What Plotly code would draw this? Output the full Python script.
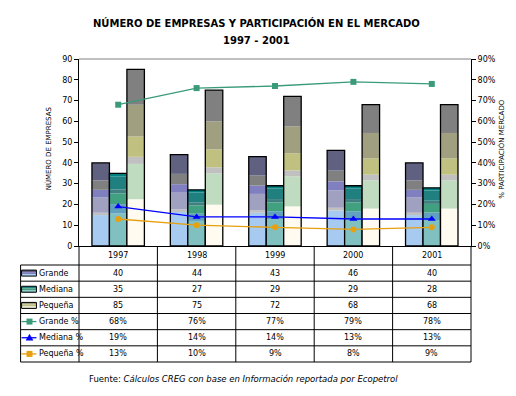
import plotly.graph_objects as go

# ---------------- data ----------------
years = ["1997", "1998", "1999", "2000", "2001"]
grande = [40, 44, 43, 46, 40]
mediana = [35, 27, 29, 29, 28]
pequena = [85, 75, 72, 68, 68]
grande_pct = [0.68, 0.76, 0.77, 0.79, 0.78]
mediana_pct = [0.19, 0.14, 0.14, 0.13, 0.13]
pequena_pct = [0.13, 0.10, 0.09, 0.08, 0.09]
row_names = ["Grande", "Mediana", "Pequeña", "Grande %", "Mediana %", "Pequeña %"]

# ---------------- style ----------------
FONT = "DejaVu Sans"
PAGE_OFF = 8                      # default page body margin
W, H = 516 - 2 * PAGE_OFF, 396 - 2 * PAGE_OFF
L, R, T, B = 79, 475, 59, 246     # plot area in window px

def pxx(p):
    return (p - L) / (R - L)

def pxy(p):
    return (B - p) / (B - T)

GRANDE_BANDS = [(0, 0.372, "#a6caf0"), (0.372, 0.40, "#c0c0c0"), (0.40, 0.583, "#a0a0c0"),
                (0.583, 0.676, "#8080c0"), (0.676, 0.789, "#808080"), (0.789, 1.0, "#606080")]
MEDIANA_BANDS = [(0, 0.447, "#80c0c0"), (0.447, 0.576, "#60a0c0"), (0.576, 0.724, "#40a080"),
                 (0.724, 0.779, "#408080"), (0.779, 0.954, "#208080"), (0.954, 1.0, "#008080")]
PEQUENA_BANDS = [(0, 0.265, "#fffbf0"), (0.265, 0.465, "#c0dcc0"), (0.465, 0.505, "#c0c0c0"),
                 (0.505, 0.62, "#c0c080"), (0.62, 0.80, "#a0a080"), (0.80, 1.0, "#808080")]
BW = 0.223
series = [(grande, GRANDE_BANDS, -0.335), (mediana, MEDIANA_BANDS, -0.112), (pequena, PEQUENA_BANDS, 0.111)]
C_G, C_M, C_P = "#3a9b7b", "#0000ff", "#e6a010"

fig = go.Figure()
for vals, bands, off in series:
    for f0, f1, col in bands:
        fig.add_trace(go.Bar(x=years, y=[v * (f1 - f0) for v in vals], base=[v * f0 for v in vals],
                             width=BW, offset=off, marker=dict(color=col, line=dict(width=0)),
                             hoverinfo="skip", showlegend=False))
    fig.add_trace(go.Bar(x=years, y=vals, base=[0] * len(vals), width=BW, offset=off,
                         marker=dict(color="rgba(0,0,0,0)", line=dict(color="black", width=1.3)),
                         showlegend=False))

for vals, col, sym, sz in [(grande_pct, C_G, "square", 6), (mediana_pct, C_M, "triangle-up", 7),
                           (pequena_pct, C_P, "circle", 6)]:
    fig.add_trace(go.Scatter(x=years, y=vals, yaxis="y2", mode="lines+markers",
                             line=dict(color=col, width=1.3), marker=dict(symbol=sym, size=sz, color=col),
                             cliponaxis=False, showlegend=False))

shapes = []
ann = []

def text(x, y, t, size=8, xref="paper", xanchor="center", **kw):
    ann.append(dict(x=x, xref=xref, y=y, yref="paper", text=t, showarrow=False,
                    xanchor=xanchor, yanchor="middle",
                    font=dict(size=size, family=FONT, color="black"), **kw))

# top border of plot area
shapes.append(dict(type="line", xref="paper", yref="paper", x0=0, x1=1, y0=1, y1=1,
                   line=dict(color="#808080", width=1)))

# table grid
row_top = 265
row_bot = 362
nrows = len(row_names)
rh = (row_bot - row_top) / nrows
line_style = dict(color="black", width=1)
for i in range(nrows + 1):
    yy = row_top + i * rh
    shapes.append(dict(type="line", xref="paper", yref="paper", x0=pxx(20), x1=1,
                       y0=pxy(yy), y1=pxy(yy), line=line_style))
shapes.append(dict(type="line", xref="paper", yref="paper", x0=pxx(20), x1=pxx(20),
                   y0=pxy(row_top), y1=pxy(row_bot), line=line_style))
for k in range(len(years) + 1):
    xk = k / len(years)
    shapes.append(dict(type="line", xref="paper", yref="paper", x0=xk, x1=xk,
                       y0=0, y1=pxy(row_bot), line=line_style))

# year labels row
for j, yr in enumerate(years):
    text(j, pxy(255.5), yr, xref="x")

# table values
table_rows = [
    [str(v) for v in grande],
    [str(v) for v in mediana],
    [str(v) for v in pequena],
    [f"{round(v*100)}%" for v in grande_pct],
    [f"{round(v*100)}%" for v in mediana_pct],
    [f"{round(v*100)}%" for v in pequena_pct],
]
for i, (name, vals) in enumerate(zip(row_names, table_rows)):
    cy = row_top + (i + 0.5) * rh
    text(pxx(37), pxy(cy), name, xanchor="left")
    for j, t in enumerate(vals):
        text(j, pxy(cy), t, xref="x")

# legend icons in the table
icon_cols = [["#606080", "#8080c0", "#a6caf0"], ["#208080", "#40a080", "#80c0c0"],
             ["#a0a080", "#c0c080", "#e0e8d0"]]
for i, cols in enumerate(icon_cols):
    cy = row_top + (i + 0.5) * rh
    top = cy - 3
    hh = 6 / len(cols)
    for j, c in enumerate(cols):
        shapes.append(dict(type="rect", xref="paper", yref="paper", x0=pxx(21), x1=pxx(36),
                           y0=pxy(top + j * hh), y1=pxy(top + (j + 1) * hh),
                           fillcolor=c, line=dict(width=0)))
    shapes.append(dict(type="rect", xref="paper", yref="paper", x0=pxx(21), x1=pxx(36),
                       y0=pxy(top), y1=pxy(top + 6), line=dict(color="black", width=1)))
for i, col in enumerate([C_G, C_M, C_P]):
    cy = row_top + (i + 3.5) * rh
    shapes.append(dict(type="line", xref="paper", yref="paper", x0=pxx(21), x1=pxx(36),
                       y0=pxy(cy), y1=pxy(cy), line=dict(color=col, width=1.3)))
    if i == 1:
        path = f"M {pxx(25.5)} {pxy(cy+2.5)} L {pxx(32.5)} {pxy(cy+2.5)} L {pxx(29)} {pxy(cy-3.5)} Z"
        shapes.append(dict(type="path", xref="paper", yref="paper", path=path,
                           fillcolor=col, line=dict(color=col, width=0.5)))
    else:
        shapes.append(dict(type="rect", xref="paper", yref="paper", x0=pxx(26), x1=pxx(32),
                           y0=pxy(cy - 3), y1=pxy(cy + 3), fillcolor=col, line=dict(width=0)))

# titles
text(pxx(258), pxy(23), "<b>NÚMERO DE EMPRESAS Y PARTICIPACIÓN EN EL MERCADO</b>", size=10)
text(pxx(258), pxy(40), "<b>1997 - 2001</b>", size=10)
text(pxx(48), pxy(148), "NÚMERO DE EMPRESAS", size=7, textangle=-90)
text(pxx(505), pxy(149), "% PARTICIPACIÓN MERCADO", size=7, textangle=-90)
text(pxx(245), pxy(379), "Fuente: <i>Cálculos CREG con base en Información reportada por Ecopetrol</i>", size=8.5)

fig.update_layout(
    width=W, height=H,
    margin=dict(l=L - PAGE_OFF, r=W - (R - PAGE_OFF), t=T - PAGE_OFF, b=H - (B - PAGE_OFF)),
    paper_bgcolor="white", plot_bgcolor="white", barmode="overlay", showlegend=False,
    font=dict(family=FONT, size=8, color="black"),
    xaxis=dict(type="category", range=[-0.5, 4.5], showline=True, linecolor="black", linewidth=1,
               ticks="", showticklabels=False, showgrid=False, zeroline=False, fixedrange=True),
    yaxis=dict(range=[0, 90], dtick=10, ticks="outside", ticklen=4, tickcolor="black",
               showline=True, linecolor="black", linewidth=1, showgrid=False, zeroline=False,
               tickfont=dict(size=8, family=FONT)),
    yaxis2=dict(range=[0, 0.9], dtick=0.1, tickformat=".0%", overlaying="y", side="right",
                ticks="outside", ticklen=4, tickcolor="black", showline=True, linecolor="black",
                linewidth=1, showgrid=False, zeroline=False, tickfont=dict(size=8, family=FONT)),
    shapes=shapes, annotations=ann,
)

fig.write_html("out.html")
